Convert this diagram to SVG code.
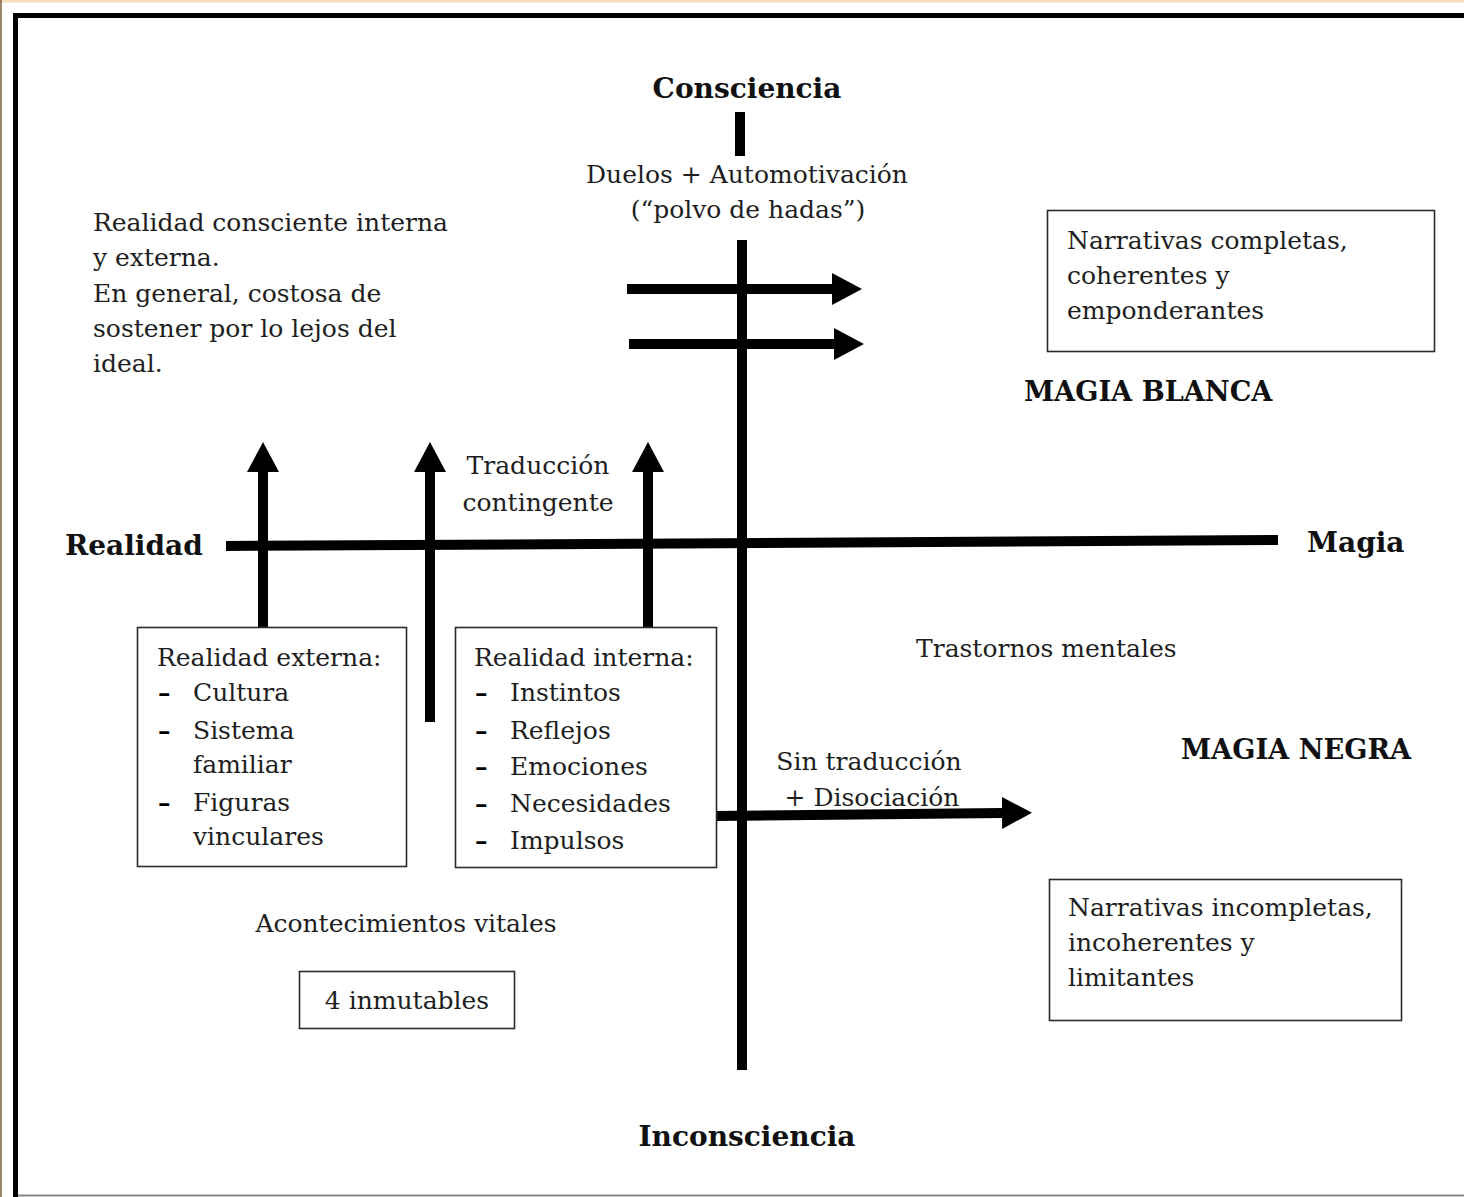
<svg xmlns="http://www.w3.org/2000/svg" width="1464" height="1197" viewBox="0 0 1464 1197">
<defs>
<style>
.t{font-family:"DejaVu Serif","Liberation Serif",serif;font-size:25px;fill:#1e1e1e}
.b{font-family:"DejaVu Serif","Liberation Serif",serif;font-size:28px;font-weight:bold;fill:#111}
.m{font-size:27.2px}
.d{font-weight:bold;fill:#000}
.c{text-anchor:middle}
.box{fill:#fff;stroke:#2a2a2a;stroke-width:1.6}
.ln{stroke:#000;stroke-width:10;fill:none}
</style>
<marker id="ah" markerUnits="userSpaceOnUse" markerWidth="30" markerHeight="32" refX="0" refY="16" orient="auto">
<path d="M0,0 L30,16 L0,32 Z" fill="#000"/>
</marker>
</defs>
<rect x="0" y="0" width="1464" height="1197" fill="#fff"/>
<rect x="0" y="0" width="1464" height="2.5" fill="#f5e0bd"/>
<line x1="1" y1="0" x2="1" y2="1197" stroke="#7a5c3a" stroke-width="1.5"/>
<rect x="15.5" y="15.5" width="1460" height="1200" fill="none" stroke="#000" stroke-width="5"/>
<line x1="18" y1="1195.5" x2="1464" y2="1195.5" stroke="#888" stroke-width="2"/>

<g id="connectors">
<line class="ln" x1="740" y1="112" x2="740" y2="156" stroke-width="11"/>
<line class="ln" x1="742" y1="240" x2="742" y2="1070"/>
<line class="ln" x1="226" y1="546" x2="1278" y2="540"/>
<line class="ln" x1="627" y1="289" x2="832" y2="289" marker-end="url(#ah)"/>
<line class="ln" x1="629" y1="344" x2="834" y2="344" marker-end="url(#ah)"/>
<line class="ln" x1="263" y1="627" x2="263" y2="472" marker-end="url(#ah)"/>
<line class="ln" x1="430" y1="722" x2="430" y2="472" marker-end="url(#ah)"/>
<line class="ln" x1="648" y1="627" x2="648" y2="472" marker-end="url(#ah)"/>
<line class="ln" x1="714" y1="816" x2="1002" y2="813" marker-end="url(#ah)"/>
</g>

<g id="consciencia"><text class="b c" x="747" y="98">Consciencia</text></g>
<g id="duelos">
<text class="t c" x="747" y="183">Duelos + Automotivación</text>
<text class="t c" x="748" y="218">(“polvo de hadas”)</text>
</g>
<g id="realidad-consciente">
<text class="t" x="93" y="231">Realidad consciente interna</text>
<text class="t" x="93" y="266">y externa.</text>
<text class="t" x="93" y="302">En general, costosa de</text>
<text class="t" x="93" y="337">sostener por lo lejos del</text>
<text class="t" x="93" y="372">ideal.</text>
</g>
<g id="narrativas-completas">
<rect class="box" x="1047.5" y="210.5" width="387" height="141"/>
<text class="t" x="1067" y="249">Narrativas completas,</text>
<text class="t" x="1067" y="284">coherentes y</text>
<text class="t" x="1067" y="319">emponderantes</text>
</g>
<g id="magia-blanca"><text class="b m" x="1024" y="401">MAGIA BLANCA</text></g>
<g id="traduccion">
<text class="t c" x="538" y="474">Traducción</text>
<text class="t c" x="538" y="511">contingente</text>
</g>
<g id="realidad"><text class="b" x="65" y="555">Realidad</text></g>
<g id="magia"><text class="b" x="1307" y="552">Magia</text></g>
<g id="realidad-externa">
<rect class="box" x="137.5" y="627.5" width="269" height="239"/>
<text class="t" x="157" y="666">Realidad externa:</text>
<text class="t d" x="158" y="701">–</text><text class="t" x="193" y="701">Cultura</text>
<text class="t d" x="158" y="739">–</text><text class="t" x="193" y="739">Sistema</text>
<text class="t" x="193" y="773">familiar</text>
<text class="t d" x="158" y="811">–</text><text class="t" x="193" y="811">Figuras</text>
<text class="t" x="193" y="845">vinculares</text>
</g>
<g id="realidad-interna">
<rect class="box" x="455.5" y="627.5" width="261" height="240"/>
<text class="t" x="474" y="666">Realidad interna:</text>
<text class="t d" x="475" y="701">–</text><text class="t" x="510" y="701">Instintos</text>
<text class="t d" x="475" y="739">–</text><text class="t" x="510" y="739">Reflejos</text>
<text class="t d" x="475" y="775">–</text><text class="t" x="510" y="775">Emociones</text>
<text class="t d" x="475" y="812">–</text><text class="t" x="510" y="812">Necesidades</text>
<text class="t d" x="475" y="849">–</text><text class="t" x="510" y="849">Impulsos</text>
</g>
<g id="trastornos"><text class="t" x="916" y="657">Trastornos mentales</text></g>
<g id="magia-negra"><text class="b m" x="1181" y="759">MAGIA NEGRA</text></g>
<g id="sin-traduccion">
<text class="t c" x="869" y="770">Sin traducción</text>
<text class="t c" x="872" y="806">+ Disociación</text>
</g>
<g id="acontecimientos"><text class="t c" x="406" y="932">Acontecimientos vitales</text></g>
<g id="inmutables">
<rect class="box" x="299.5" y="971.5" width="215" height="57"/>
<text class="t c" x="407" y="1009">4 inmutables</text>
</g>
<g id="narrativas-incompletas">
<rect class="box" x="1049.5" y="879.5" width="352" height="141"/>
<text class="t" x="1068" y="916">Narrativas incompletas,</text>
<text class="t" x="1068" y="951">incoherentes y</text>
<text class="t" x="1068" y="986">limitantes</text>
</g>
<g id="inconsciencia"><text class="b c" x="747" y="1146">Inconsciencia</text></g>
</svg>
